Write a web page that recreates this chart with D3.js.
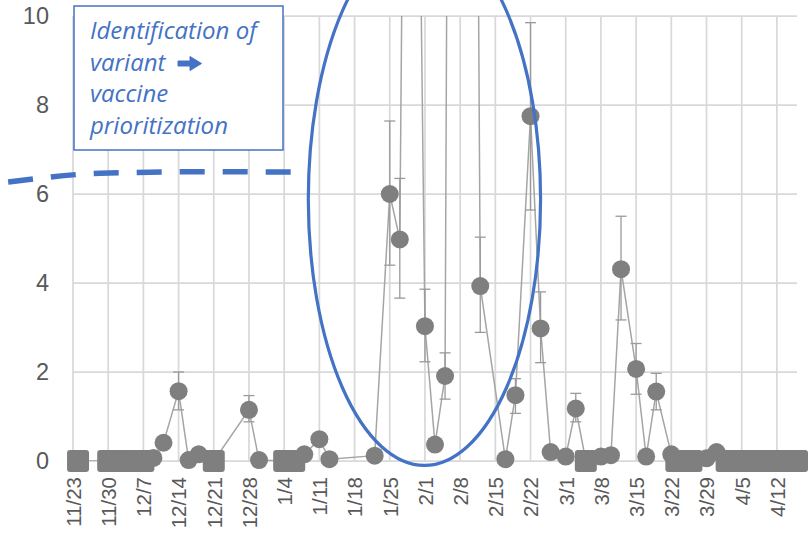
<!DOCTYPE html>
<html>
<head>
<meta charset="utf-8">
<script src="https://cdn.jsdelivr.net/npm/d3@7"></script>
<style>
  body { margin: 0; background: #fff; }
  svg { display: block; font-family: Lato, "Liberation Sans", sans-serif; }
</style>
</head>
<body>
<div id="chart"></div>
<script>
// sample dates, one per measurement (value 0 = square marker)
var dates = [
  "2020-11-24",
  "2020-11-30", "2020-12-01", "2020-12-02", "2020-12-03", "2020-12-04", "2020-12-05", "2020-12-06", "2020-12-07",
  "2020-12-09", "2020-12-11", "2020-12-14", "2020-12-16", "2020-12-18", "2020-12-21",
  "2020-12-28", "2020-12-30",
  "2021-01-04", "2021-01-05", "2021-01-06", "2021-01-08", "2021-01-11", "2021-01-13",
  "2021-01-22", "2021-01-25", "2021-01-27", "2021-01-29",
  "2021-02-01", "2021-02-03", "2021-02-05", "2021-02-08", "2021-02-12",
  "2021-02-17", "2021-02-19", "2021-02-22", "2021-02-24", "2021-02-26",
  "2021-03-01", "2021-03-03", "2021-03-05", "2021-03-08", "2021-03-10", "2021-03-12",
  "2021-03-15", "2021-03-17", "2021-03-19", "2021-03-22",
  "2021-03-23", "2021-03-24", "2021-03-25", "2021-03-26", "2021-03-29", "2021-03-31",
  "2021-04-02", "2021-04-03", "2021-04-04", "2021-04-05", "2021-04-06", "2021-04-07", "2021-04-08",
  "2021-04-09", "2021-04-10", "2021-04-11", "2021-04-12", "2021-04-13", "2021-04-14", "2021-04-15", "2021-04-16"
];
var values = [
  0,
  0, 0, 0, 0, 0, 0, 0, 0,
  0.07, 0.41, 1.57, 0.02, 0.15, 0,
  1.15, 0.02,
  0, 0, 0, 0.15, 0.49, 0.04,
  0.12, 6.0, 4.98, 32,
  3.03, 0.37, 1.91, 80, 3.93,
  0.04, 1.48, 7.75, 2.98, 0.2,
  0.1, 1.18, 0, 0.1, 0.13, 4.31,
  2.07, 0.1, 1.56, 0.15,
  0, 0, 0, 0, 0.06, 0.2,
  0, 0, 0, 0, 0, 0, 0,
  0, 0, 0, 0, 0, 0, 0, 0
];
// error bars: [date, low, high]
var errorBars = [
  ["2020-12-14", 1.15, 2.0],
  ["2020-12-28", 0.88, 1.47],
  ["2021-01-25", 4.4, 7.64],
  ["2021-01-27", 3.66, 6.35],
  ["2021-02-01", 2.23, 3.86],
  ["2021-02-05", 1.39, 2.43],
  ["2021-02-12", 2.89, 5.03],
  ["2021-02-19", 1.07, 1.85],
  ["2021-02-22", 5.64, 9.85],
  ["2021-02-24", 2.21, 3.8],
  ["2021-03-03", 0.88, 1.52],
  ["2021-03-12", 3.17, 5.5],
  ["2021-03-15", 1.5, 2.64],
  ["2021-03-19", 1.15, 1.97]
];
var weekTicks = [
  "2020-11-23", "2020-11-30", "2020-12-07", "2020-12-14", "2020-12-21", "2020-12-28",
  "2021-01-04", "2021-01-11", "2021-01-18", "2021-01-25", "2021-02-01", "2021-02-08",
  "2021-02-15", "2021-02-22", "2021-03-01", "2021-03-08", "2021-03-15", "2021-03-22",
  "2021-03-29", "2021-04-05", "2021-04-12"
];
var yTicks = [0, 2, 4, 6, 8, 10];
var noteLines = ["Identification of", "variant", "vaccine", "prioritization"];

var parse = d3.timeParse("%Y-%m-%d");
var fmt = d3.timeFormat("%-m/%-d");
var start = parse("2020-11-23"), end = parse("2021-04-16");

var W = 811, H = 534;
var margin = {top: 16, right: 14, bottom: 73, left: 73};
var plotW = W - margin.left - margin.right,
    plotH = H - margin.top - margin.bottom;

var blue = "#4472C4", grid = "#d9d9d9";

var svg = d3.select("#chart").append("svg")
    .attr("width", W)
    .attr("height", H);

var g = svg.append("g")
    .attr("transform", "translate(" + margin.left + "," + margin.top + ")");

var x = d3.scaleTime().domain([start, end]).range([0, plotW]);
var y = d3.scaleLinear().domain([0, 10]).range([plotH, 0]);

// day offset (fractional) -> pixel, for annotations
function xDay(d) { return x(new Date(start.getTime() + d * 864e5)); }

var points = dates.map(function(d, i) { return {date: parse(d), value: values[i]}; });

// ---------- gridlines ----------
g.append("g").selectAll("line.h")
  .data(yTicks).enter().append("line")
    .attr("x1", 0).attr("x2", plotW)
    .attr("y1", function(d) { return y(d); })
    .attr("y2", function(d) { return y(d); })
    .attr("stroke", grid).attr("stroke-width", 1.75);

g.append("g").selectAll("line.v")
  .data(weekTicks).enter().append("line")
    .attr("x1", function(d) { return x(parse(d)); })
    .attr("x2", function(d) { return x(parse(d)); })
    .attr("y1", 0).attr("y2", plotH)
    .attr("stroke", grid).attr("stroke-width", 1.75);

// ---------- axes ----------
var yAxis = g.append("g")
    .call(d3.axisLeft(y).tickValues(yTicks).tickSize(0).tickPadding(24));
yAxis.select(".domain").remove();
yAxis.selectAll("text")
    .attr("fill", "#595959")
    .style("font-size", "23.5px");

var xAxis = g.append("g")
    .attr("transform", "translate(0," + plotH + ")")
    .call(d3.axisBottom(x).tickValues(weekTicks.map(parse)).tickFormat(fmt).tickSize(0));
xAxis.select(".domain").remove();
xAxis.selectAll("text")
    .attr("fill", "#595959")
    .style("font-size", "20.5px")
    .attr("text-anchor", "end")
    .attr("transform", "rotate(-90)")
    .attr("x", -16)
    .attr("y", 0)
    .attr("dy", "0.36em");

// ---------- series ----------
svg.append("defs").append("clipPath").attr("id", "plotClip")
  .append("rect").attr("width", plotW).attr("height", plotH);

var clipped = g.append("g").attr("clip-path", "url(#plotClip)");

var line = d3.line()
    .x(function(d) { return x(d.date); })
    .y(function(d) { return y(d.value); });

clipped.append("path")
    .datum(points)
    .attr("d", line)
    .attr("fill", "none")
    .attr("stroke", "#a5a5a5")
    .attr("stroke-width", 1.5);

var eb = clipped.append("g").selectAll("g")
  .data(errorBars).enter().append("g")
    .attr("stroke", "#9a9a9a").attr("stroke-width", 1.3);
eb.append("line")
    .attr("x1", function(d) { return x(parse(d[0])); })
    .attr("x2", function(d) { return x(parse(d[0])); })
    .attr("y1", function(d) { return y(d[1]); })
    .attr("y2", function(d) { return y(d[2]); });
eb.selectAll("line.cap")
  .data(function(d) { return [[d[0], d[1]], [d[0], d[2]]]; }).enter().append("line")
    .attr("x1", function(d) { return x(parse(d[0])) - 5.5; })
    .attr("x2", function(d) { return x(parse(d[0])) + 5.5; })
    .attr("y1", function(d) { return y(d[1]); })
    .attr("y2", function(d) { return y(d[1]); });

// markers: squares for zero results, circles otherwise
var markers = g.append("g");
markers.selectAll("rect")
  .data(points.filter(function(d) { return d.value === 0; })).enter().append("rect")
    .attr("x", function(d) { return x(d.date) - 11; })
    .attr("y", function(d) { return y(d.value) - 11; })
    .attr("width", 22).attr("height", 22)
    .attr("rx", 3)
    .attr("fill", "#7f7f7f");
markers.selectAll("circle")
  .data(points.filter(function(d) { return d.value > 0 && d.value <= 10; })).enter().append("circle")
    .attr("cx", function(d) { return x(d.date); })
    .attr("cy", function(d) { return y(d.value); })
    .attr("r", 9)
    .attr("fill", "#7f7f7f");

// ---------- annotations ----------
// dashed pointer line
var dashPts = [[-12.9, 6.27], [5.4, 6.465], [25.3, 6.5], [46.5, 6.49]];
g.append("path")
    .datum(dashPts)
    .attr("d", d3.line()
        .x(function(d) { return xDay(d[0]); })
        .y(function(d) { return y(d[1]); })
        .curve(d3.curveMonotoneX))
    .attr("fill", "none")
    .attr("stroke", blue)
    .attr("stroke-width", 5.5)
    .attr("stroke-dasharray", "25,18");

// ellipse around the late Jan - Feb peaks
g.append("ellipse")
    .attr("cx", xDay(69.9))
    .attr("cy", y(5.88))
    .attr("rx", xDay(23.1) - xDay(0))
    .attr("ry", y(0) - y(5.98))
    .attr("fill", "none")
    .attr("stroke", blue)
    .attr("stroke-width", 3.2);

// text box
var note = svg.append("g");
note.append("rect")
    .attr("x", 74).attr("y", 6)
    .attr("width", 209).attr("height", 144)
    .attr("fill", "#fff")
    .attr("stroke", blue)
    .attr("stroke-width", 1.5);
var noteText = note.append("text")
    .attr("fill", blue)
    .style("font-family", "'Open Sans', Lato, sans-serif")
    .style("font-size", "24px")
    .style("font-style", "italic");
noteLines.forEach(function(t, i) {
  noteText.append("tspan")
      .attr("x", 90)
      .attr("y", 39 + i * 31.6)
      .text(t);
});
// heavy right arrow after "variant"
note.append("path")
    .attr("d", "M178,61 L190,61 L190,56.5 L201.5,63.5 L190,70.5 L190,66 L178,66 Z")
    .attr("fill", blue)
    .attr("stroke", blue)
    .attr("stroke-width", 1)
    .attr("stroke-linejoin", "round");
</script>
</body>
</html>
